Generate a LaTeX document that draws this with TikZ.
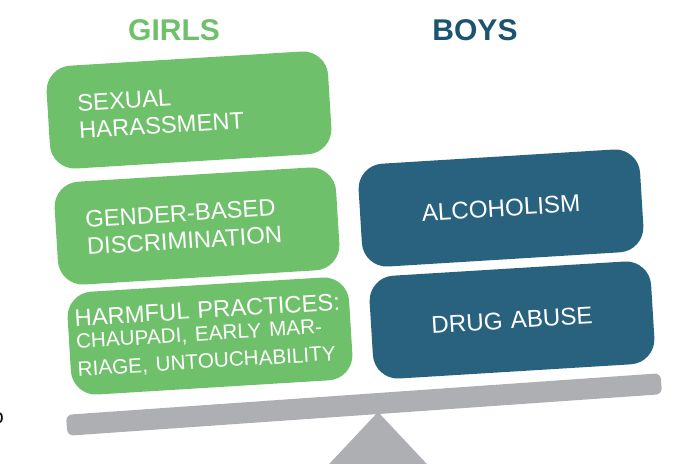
\documentclass[tikz,border=0pt]{standalone}
\usepackage{fontspec}
\setmainfont{Liberation Sans}
\definecolor{girlgreen}{RGB}{111,192,106}
\definecolor{boyblue}{RGB}{40,98,127}
\definecolor{titleblue}{RGB}{28,84,112}
\definecolor{beamgray}{RGB}{174,175,179}
\begin{document}
\begin{tikzpicture}[x=1pt,y=-1pt,card/.style={rounded corners=25pt,minimum width=282pt,minimum height=103pt,rotate=3.5,text=white,inner sep=0pt},girl/.style={card,fill=girlgreen,align=left,text width=222pt,font=\fontsize{23.8}{27.5}\selectfont},boy/.style={card,fill=boyblue,align=center,text width=282pt,font=\fontsize{24.2}{27}\selectfont},title/.style={font=\fontsize{30}{32}\selectfont\bfseries},beam/.style={fill=beamgray,rounded corners=6pt,minimum width=596pt,minimum height=21pt,inner sep=0pt,rotate=4}]
\useasboundingbox (0,0) rectangle (676,463);
\node[inner sep=0pt,anchor=east,font=\fontsize{20}{20}\selectfont] (cut) at (4,418) {o};
\node[title,text=girlgreen] (t0) at (174,30) {GIRLS};
\node[title,text=titleblue] (t1) at (475,30) {BOYS};
\fill[beamgray] (378,412) -- (316,478) -- (440,478) -- cycle;
\node[beam] (beam) at (364,404.5) {};
\node[girl] (g0) at (189,110) {SEXUAL\\HARASSMENT};
\node[girl] (g1) at (197,226) {GENDER-BASED\\DISCRIMINATION};
\node[girl,text width=268pt] (g2) at (210,336) {HARMFUL PRACTICES:\\[-1pt]{\fontsize{20.7}{23.5}\selectfont CHAUPADI, EARLY MAR-\\RIAGE, UNTOUCHABILITY}};
\node[boy] (b0) at (501,208) {ALCOHOLISM};
\node[boy] (b1) at (512,320) {DRUG ABUSE};
\end{tikzpicture}
\end{document}
